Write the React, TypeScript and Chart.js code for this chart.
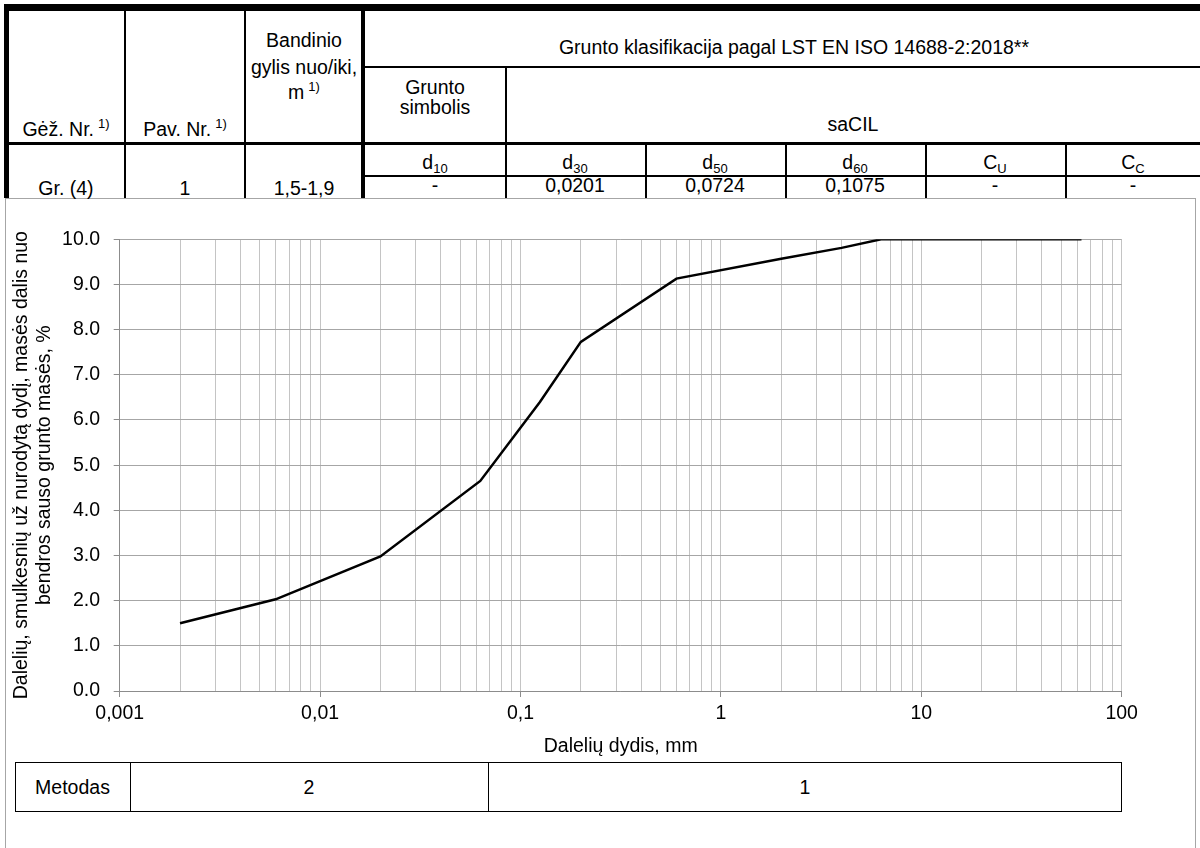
import React, { useEffect, useRef } from 'react';
import { Chart, registerables } from 'chart.js';

Chart.register(...registerables);

// ---- data ----
const particleSizes = [0.002, 0.006, 0.02, 0.063, 0.125, 0.2, 0.6, 2, 4, 6.3, 63];
const passingPercent = [1.5, 2.03, 2.98, 4.65, 6.4, 7.73, 9.13, 9.57, 9.81, 10.0, 10.0];
const xDecades = [0.001, 0.01, 0.1, 1, 10, 100];
const xDecadeLabels = ['0,001', '0,01', '0,1', '1', '10', '100'];
const yTickValues = [0, 1, 2, 3, 4, 5, 6, 7, 8, 9, 10];
const xTitle = 'Dalelių dydis, mm';
const yTitle = ['Dalelių, smulkesnių už nurodytą dydį, masės dalis nuo', 'bendros sauso grunto masės, %'];

const paramSymbols = ['d', 'd', 'd', 'd', 'C', 'C'];
const paramSubs = ['10', '30', '50', '60', 'U', 'C'];
const paramValues = ['-', '0,0201', '0,0724', '0,1075', '-', '-'];
const sampleValues = ['Gr. (4)', '1', '1,5-1,9'];
const methodLabels = ['Metodas', '2', '1'];

const FONT = '"Liberation Sans", Arial, Helvetica, sans-serif';
const FS = 19.5;

function Line({ x, y, w, h, c = '#000' }: { x: number; y: number; w: number; h: number; c?: string }) {
  return <div style={{ position: 'absolute', left: x, top: y, width: w, height: h, background: c }} />;
}

function Txt({ cx, cy, children, size = FS }: { cx: number; cy: number; children: any; size?: number }) {
  return (
    <div
      style={{
        position: 'absolute',
        left: cx - 500,
        width: 1000,
        top: cy - 12,
        height: 24,
        lineHeight: '24px',
        textAlign: 'center',
        fontSize: size,
        fontFamily: FONT,
        color: '#000',
        whiteSpace: 'nowrap',
        pointerEvents: 'none',
      }}
    >
      {children}
    </div>
  );
}

const Sup = () => <span style={{ fontSize: 13, verticalAlign: 8, marginLeft: 4 }}>1)</span>;

export default function App() {
  const ref = useRef<HTMLCanvasElement>(null);

  useEffect(() => {
    const canvas = ref.current;
    if (!canvas) return;
    const tickVals: number[] = [];
    for (let e = -3; e < 2; e++) {
      for (let m = 1; m <= 9; m++) tickVals.push(Number((m * Math.pow(10, e)).toPrecision(3)));
    }
    tickVals.push(100);
    const decadeIndex = (v: number) => xDecades.findIndex((d) => Math.abs(d - v) / d < 1e-6);

    const chart = new Chart(canvas, {
      type: 'line',
      data: {
        datasets: [
          {
            data: particleSizes.map((x, i) => ({ x, y: passingPercent[i] })),
            borderColor: '#000',
            borderWidth: 2.5,
            pointRadius: 0,
            tension: 0,
            fill: false,
          },
        ],
      },
      options: {
        responsive: false,
        animation: false,
        devicePixelRatio: 1,
        layout: { padding: { left: 0, right: 78.3, top: 39.3, bottom: 0 } },
        plugins: { legend: { display: false }, tooltip: { enabled: false } },
        scales: {
          x: {
            type: 'logarithmic',
            min: 0.001,
            max: 100,
            afterBuildTicks: (s: any) => {
              s.ticks = tickVals.map((v) => ({ value: v }));
            },
            afterFit: (s: any) => {
              s.height = 69;
            },
            ticks: {
              autoSkip: false,
              maxRotation: 0,
              minRotation: 0,
              padding: 5,
              color: '#000',
              font: { family: FONT, size: FS },
              callback: (v: any) => {
                const i = decadeIndex(Number(v));
                return i >= 0 ? xDecadeLabels[i] : '';
              },
            },
            grid: {
              color: '#c4c4c4',
              lineWidth: 1,
              tickLength: 6,
              tickColor: (ctx: any) =>
                ctx.tick && decadeIndex(ctx.tick.value) >= 0 ? '#8c8c8c' : 'rgba(0,0,0,0)',
            },
            border: { color: '#8c8c8c', width: 1 },
            title: {
              display: true,
              text: xTitle,
              color: '#000',
              font: { family: FONT, size: FS },
              padding: { top: 0, bottom: 2 },
            },
          },
          y: {
            type: 'linear',
            min: yTickValues[0],
            max: yTickValues[yTickValues.length - 1],
            afterBuildTicks: (s: any) => {
              s.ticks = yTickValues.map((v) => ({ value: v }));
            },
            afterFit: (s: any) => {
              s.width = 119.7;
            },
            ticks: {
              padding: 13.7,
              color: '#000',
              font: { family: FONT, size: FS },
              callback: (v: any) => Number(v).toFixed(1),
            },
            grid: { color: '#a6a6a6', lineWidth: 1, tickLength: 6, tickColor: '#8c8c8c' },
            border: { color: '#8c8c8c', width: 1 },
            title: {
              display: true,
              text: yTitle,
              color: '#000',
              font: { family: FONT, size: FS },
              padding: { top: 9.5, bottom: 0 },
            },
          },
        },
      },
    } as any);
    return () => chart.destroy();
  }, []);

  const colCenters = [435, 575, 715, 855, 995, 1133];

  return (
    <div
      style={{
        position: 'absolute',
        left: 0,
        top: 0,
        width: 1200,
        height: 848,
        overflow: 'hidden',
        background: '#fff',
        fontFamily: FONT,
      }}
    >
      {/* chart frame */}
      <div
        style={{
          position: 'absolute',
          left: 5,
          top: 198,
          width: 1191,
          height: 700,
          border: '1.5px solid #a6a6a6',
          boxSizing: 'border-box',
        }}
      />

      {/* top table lines */}
      <Line x={4} y={4} w={1196} h={7} />
      <Line x={4} y={4} w={5} h={194} />
      <Line x={124} y={11} w={2} h={187} />
      <Line x={244} y={11} w={2} h={187} />
      <Line x={361} y={11} w={4} h={187} />
      <Line x={365} y={66} w={835} h={2} />
      <Line x={505} y={68} w={2} h={130} />
      <Line x={4} y={142} w={1196} h={3} />
      {[645, 785, 925, 1065].map((x) => (
        <Line key={x} x={x} y={145} w={2} h={53} />
      ))}
      <Line x={365} y={175} w={835} h={2} />

      {/* top table texts */}
      <Txt cx={794} cy={47}>Grunto klasifikacija pagal LST EN ISO 14688-2:2018**</Txt>
      <Txt cx={304} cy={40}>Bandinio</Txt>
      <Txt cx={304} cy={67}>gylis nuo/iki,</Txt>
      <Txt cx={304} cy={87}>
        m<Sup />
      </Txt>
      <Txt cx={435} cy={87}>Grunto</Txt>
      <Txt cx={435} cy={107}>simbolis</Txt>
      <Txt cx={853} cy={124}>saCIL</Txt>
      <Txt cx={66} cy={124}>
        Gėž. Nr.<Sup />
      </Txt>
      <Txt cx={185} cy={124}>
        Pav. Nr.<Sup />
      </Txt>
      {paramSymbols.map((s, i) => (
        <Txt key={'p' + i} cx={colCenters[i]} cy={162}>
          {s}
          <sub style={{ fontSize: 13, verticalAlign: -4 }}>{paramSubs[i]}</sub>
        </Txt>
      ))}
      {paramValues.map((v, i) => (
        <Txt key={'v' + i} cx={colCenters[i]} cy={185}>
          {v}
        </Txt>
      ))}
      <Txt cx={66} cy={188}>{sampleValues[0]}</Txt>
      <Txt cx={185} cy={188}>{sampleValues[1]}</Txt>
      <Txt cx={304} cy={188}>{sampleValues[2]}</Txt>

      {/* chart */}
      <canvas
        ref={ref}
        width={1200}
        height={560}
        style={{ position: 'absolute', left: 0, top: 200, width: 1200, height: 560 }}
      />

      {/* method table */}
      <div
        style={{
          position: 'absolute',
          left: 15,
          top: 762,
          width: 1107,
          height: 50,
          border: '1.5px solid #000',
          boxSizing: 'border-box',
        }}
      />
      <Line x={129.5} y={762} w={1.5} h={50} />
      <Line x={487.5} y={762} w={1.5} h={50} />
      <Txt cx={72.5} cy={787}>{methodLabels[0]}</Txt>
      <Txt cx={309} cy={787}>{methodLabels[1]}</Txt>
      <Txt cx={805} cy={787}>{methodLabels[2]}</Txt>
    </div>
  );
}
